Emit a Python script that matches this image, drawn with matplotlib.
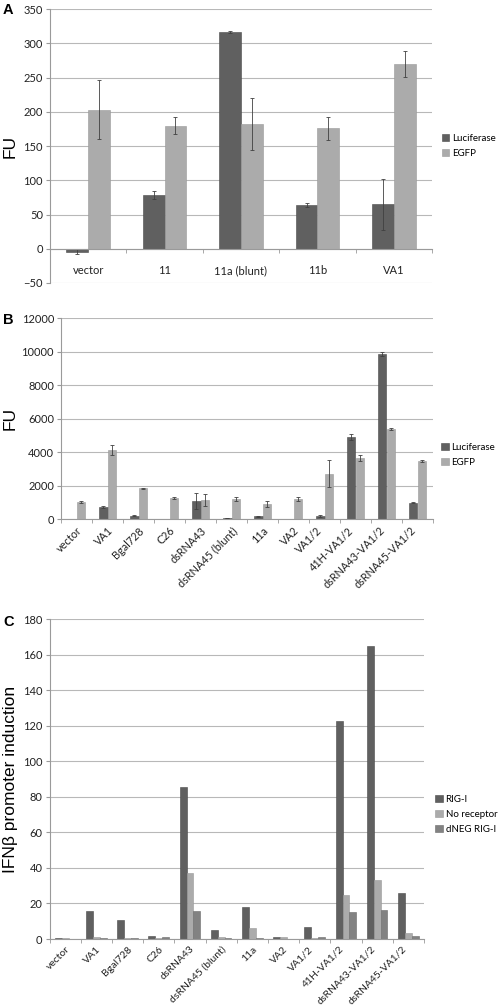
import matplotlib.pyplot as plt
import numpy as np

# panel A
cats_a = ['vector', '11', '11a (blunt)', '11b', 'VA1']
luc_a = [-4, 79, 317, 64, 65]
luc_a_err = [4, 6, 1.5, 2.5, 37]
egfp_a = [203, 180, 183, 176, 270]
egfp_a_err = [43, 13, 38, 17, 19]

# panel B
cats_b = ['vector', 'VA1', 'Bgal728', 'C26', 'dsRNA43', 'dsRNA45 (blunt)', '11a',
          'VA2', 'VA1/2', '41H-VA1/2', 'dsRNA43-VA1/2', 'dsRNA45-VA1/2']
luc_b = [0, 716, 197, 30, 1075, 50, 180, 20, 197, 4913, 9868, 991]
luc_b_err = [0, 60, 30, 0, 470, 0, 40, 0, 40, 160, 140, 30]
egfp_b = [1015, 4139, 1850, 1272, 1134, 1212, 895, 1212, 2722, 3640, 5391, 3500]
egfp_b_err = [60, 280, 30, 80, 350, 130, 180, 90, 800, 180, 60, 60]

# panel C
rig_c = [0.8, 15.9, 10.8, 1.5, 85.7, 4.9, 17.9, 1.3, 6.5, 122.7, 165.1, 25.8]
norec_c = [0.5, 1.3, 0.3, 0.6, 37.4, 1.0, 6.0, 1.0, 0.6, 24.5, 33.1, 3.2]
dneg_c = [0.1, 0.8, 0.3, 1.4, 15.7, 0.6, 0.7, 0.1, 1.1, 15.1, 16.6, 1.7]

dark = '#606060'
light = '#ababab'
mid = '#828282'
grid = '#b8b8b8'
tick_font = 'Lato'

fig = plt.figure(figsize=(5, 10.06), dpi=100)


def style(ax, n, xsize=8):
    for s in ['top', 'right']:
        ax.spines[s].set_visible(False)
    ax.spines['left'].set_color('#9a9a9a')
    ax.spines['bottom'].set_color('#9a9a9a')
    ax.yaxis.grid(True, color=grid, lw=0.8)
    ax.set_axisbelow(True)
    ax.set_xlim(-0.5, n - 0.5)
    ax.set_xticks(np.arange(n))
    ax.set_xticks(np.arange(n + 1) - 0.5, minor=True)
    ax.tick_params(axis='x', which='major', length=0, pad=4)
    ax.tick_params(axis='x', which='minor', length=3, color='#9a9a9a')
    ax.tick_params(axis='y', length=3, color='#9a9a9a', pad=2)
    for lab in ax.get_yticklabels():
        lab.set_family(tick_font)
        lab.set_fontsize(8)
        lab.set_color('#222222')
    for lab in ax.get_xticklabels():
        lab.set_family(tick_font)
        lab.set_fontsize(xsize)
        lab.set_color('#222222')


def legend(ax, x, y):
    lg = ax.legend(loc='center left', bbox_to_anchor=(x, y), frameon=False,
                   handlelength=0.75, handleheight=0.75, handletextpad=0.3,
                   labelspacing=0.6, borderaxespad=0,
                   prop={'family': tick_font, 'size': 7})
    return lg


ekw = dict(ecolor='#404040', elinewidth=0.6, capsize=1.2, capthick=0.6)

# ---- A
ax = fig.add_axes([0.1, 0.7187, 0.764, 0.2721])
x = np.arange(len(cats_a))
w = 0.285
ax.bar(x - w / 2, luc_a, w, yerr=luc_a_err, color=dark, edgecolor='#4a4a4a', lw=0.4,
       error_kw=ekw, label='Luciferase')
ax.bar(x + w / 2, egfp_a, w, yerr=egfp_a_err, color=light, edgecolor='#999999', lw=0.4,
       error_kw=ekw, label='EGFP')
ax.set_ylim(-50, 350)
ax.set_yticks(np.arange(-50, 351, 50))
ax.set_xticklabels(cats_a)
ax.spines['bottom'].set_position(('data', 0))
style(ax, len(cats_a))
ax.tick_params(axis='x', which='major', pad=12)
ax.set_ylabel('FU', fontsize=12.5, family='Liberation Sans')
ax.yaxis.set_label_coords(-0.084, 0.5)
legend(ax, 1.016, 0.50)

# ---- B
ax = fig.add_axes([0.122, 0.4838, 0.744, 0.1998])
x = np.arange(len(cats_b))
w = 0.28
ax.bar(x - w / 2, luc_b, w, yerr=luc_b_err, color=dark, edgecolor='#4a4a4a', lw=0.4,
       error_kw=ekw, label='Luciferase')
ax.bar(x + w / 2, egfp_b, w, yerr=egfp_b_err, color=light, edgecolor='#999999', lw=0.4,
       error_kw=ekw, label='EGFP')
ax.set_ylim(0, 12000)
ax.set_yticks(np.arange(0, 12001, 2000))
ax.set_xticklabels(cats_b, rotation=45, ha='right', rotation_mode='anchor')
style(ax, len(cats_b), xsize=7.8)
ax.set_ylabel('FU', fontsize=12.5, family='Liberation Sans')
ax.yaxis.set_label_coords(-0.116, 0.5)
legend(ax, 1.012, 0.32)

# ---- C
ax = fig.add_axes([0.099, 0.0666, 0.749, 0.3178])
x = np.arange(len(cats_b))
w = 0.22
ax.bar(x - w, rig_c, w, color=dark, edgecolor='#4a4a4a', lw=0.4, label='RIG-I')
ax.bar(x, norec_c, w, color=light, edgecolor='#999999', lw=0.4, label='No receptor')
ax.bar(x + w, dneg_c, w, color=mid, edgecolor='#6a6a6a', lw=0.4, label='dNEG RIG-I')
ax.set_ylim(0, 180)
ax.set_yticks(np.arange(0, 181, 20))
ax.set_xticklabels(cats_b, rotation=45, ha='right', rotation_mode='anchor')
style(ax, len(cats_b), xsize=7.5)
ax.set_ylabel('IFN\u03b2 promoter induction', fontsize=12.5, family='Liberation Sans')
ax.yaxis.set_label_coords(-0.084, 0.5)
legend(ax, 1.02, 0.39)

fig.text(0.006, 0.997, 'A', fontsize=10.5, fontweight='bold', family='Liberation Sans', va='top')
fig.text(0.006, 0.689, 'B', fontsize=10.5, fontweight='bold', family='Liberation Sans', va='top')
fig.text(0.006, 0.389, 'C', fontsize=10.5, fontweight='bold', family='Liberation Sans', va='top')

plt.savefig('out.png', dpi=100)
